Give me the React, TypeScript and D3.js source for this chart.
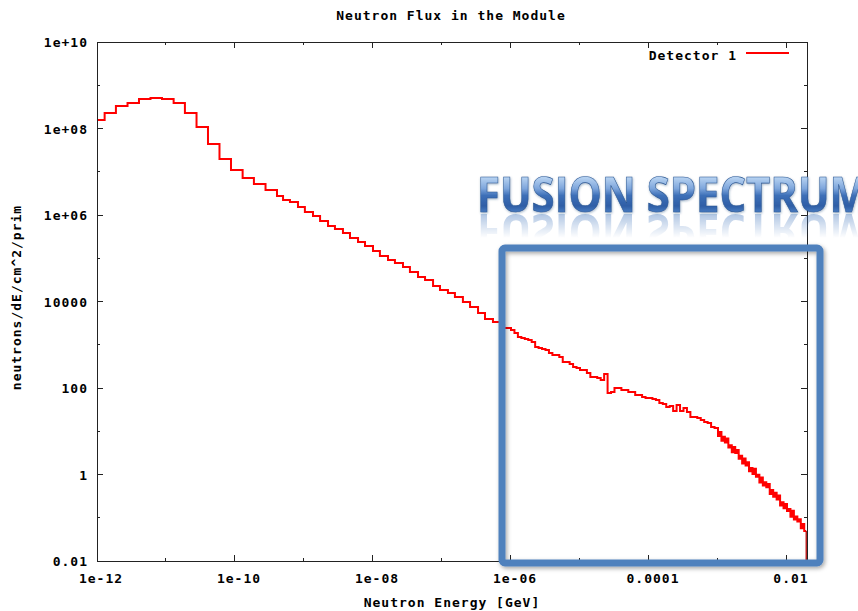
import React from 'react';
import * as d3 from 'd3';

// Histogram bin lower edges (GeV) and flux per bin (neutrons/dE/cm^2/prim)
const energyGeV = [
  8.0e-13, 1.29e-12, 1.88e-12, 2.77e-12, 4.06e-12, 5.96e-12, 8.75e-12, 1.29e-11, 1.88e-11, 2.77e-11,
  4.06e-11, 5.96e-11, 8.75e-11, 1.29e-10, 1.88e-10, 2.77e-10, 4.06e-10,
  4.97e-10, 6.26e-10, 8.18e-10, 1.03e-9, 1.35e-9, 1.71e-9, 2.23e-9, 2.81e-9, 3.67e-9, 4.64e-9,
  6.07e-9, 7.66e-9, 1.0e-8, 1.26e-8, 1.65e-8, 2.08e-8, 2.72e-8, 3.43e-8, 4.49e-8, 5.68e-8,
  7.42e-8, 9.35e-8, 1.22e-7, 1.54e-7, 2.01e-7, 2.55e-7, 3.33e-7, 4.20e-7, 5.48e-7,
  7.079e-7, 7.943e-7, 8.913e-7, 1.0e-6, 1.122e-6, 1.259e-6, 1.413e-6, 1.585e-6, 1.778e-6, 1.995e-6,
  2.239e-6, 2.512e-6, 2.818e-6, 3.162e-6, 3.548e-6, 3.981e-6, 4.467e-6, 5.012e-6, 5.623e-6, 6.310e-6,
  7.079e-6, 7.943e-6, 8.913e-6, 1.0e-5, 1.122e-5, 1.259e-5, 1.413e-5, 1.585e-5, 1.778e-5, 1.995e-5,
  2.239e-5, 2.512e-5, 2.818e-5, 3.162e-5, 3.548e-5, 3.981e-5, 4.467e-5, 5.012e-5, 5.623e-5, 6.310e-5,
  7.079e-5, 7.943e-5, 8.913e-5, 1.0e-4, 1.122e-4, 1.259e-4, 1.413e-4, 1.585e-4, 1.778e-4, 1.995e-4,
  2.239e-4, 2.512e-4, 2.818e-4, 3.162e-4, 3.548e-4, 3.981e-4, 4.467e-4, 5.012e-4, 5.623e-4, 6.310e-4,
  7.079e-4, 7.943e-4, 8.913e-4,
  1.000e-3, 1.059e-3, 1.122e-3, 1.189e-3, 1.259e-3, 1.334e-3, 1.413e-3, 1.496e-3, 1.585e-3, 1.679e-3,
  1.778e-3, 1.884e-3, 1.995e-3, 2.113e-3, 2.239e-3, 2.371e-3, 2.512e-3, 2.661e-3, 2.818e-3, 2.985e-3,
  3.162e-3, 3.350e-3, 3.548e-3, 3.758e-3, 3.981e-3, 4.217e-3, 4.467e-3, 4.732e-3, 5.012e-3, 5.309e-3,
  5.623e-3, 5.957e-3, 6.310e-3, 6.683e-3, 7.079e-3, 7.499e-3, 7.943e-3, 8.414e-3, 8.913e-3, 9.441e-3,
  1.000e-2, 1.059e-2, 1.122e-2, 1.189e-2, 1.259e-2, 1.334e-2, 1.413e-2, 1.496e-2, 1.585e-2, 1.679e-2,
  1.778e-2,
];
const fluxPerPrim = [
  1.57e8, 2.28e8, 3.31e8, 3.89e8, 4.81e8, 5.07e8, 4.81e8, 3.89e8, 2.28e8, 1.08e8,
  4.39e7, 1.97e7, 1.10e7, 7.16e6, 5.21e6, 3.79e6, 2.75e6,
  2.22e6, 2.00e6, 1.53e6, 1.17e6, 9.48e5, 7.27e5, 5.57e5, 4.74e5, 3.84e5, 2.94e5,
  2.38e5, 1.92e5, 1.47e5, 1.13e5, 9.12e4, 7.77e4, 6.28e4, 4.81e4, 3.68e4, 3.14e4,
  2.28e4, 1.85e4, 1.57e4, 1.27e4, 9.73e3, 7.46e3, 5.42e3, 3.94e3, 3.36e3,
  2860, 2440, 2440, 2190, 1870, 1511, 1433, 1358, 1288, 1158,
  887, 841, 797, 756, 645, 579, 579, 521, 399, 399,
  359, 306, 290, 261, 261, 222, 180, 180, 170, 153,
  211, 76.6, 80.8, 100, 100, 89.9, 89.9, 80.8, 80.8, 68.9,
  68.9, 61.9, 58.7, 58.7, 55.7, 52.8, 45.0, 42.7, 36.4, 38.4,
  29.4, 40.5, 29.4, 34.5, 27.9, 21.4, 21.4, 20.2, 18.2, 16.4,
  15.5, 12.5, 11.9,
  7.77, 9.66, 6.01, 7.48, 5.47, 6.80, 4.23, 4.73, 3.28, 4.30,
  3.14, 3.71, 2.31, 2.72, 1.79, 2.34, 1.62, 1.91, 1.19, 1.41,
  1.03, 1.35, 0.885, 0.989, 0.650, 0.852, 0.560, 0.660, 0.508, 0.600,
  0.354, 0.440, 0.305, 0.380, 0.263, 0.327, 0.193, 0.228, 0.166, 0.207,
  0.143, 0.160, 0.105, 0.146, 0.0906, 0.107, 0.0823, 0.0921, 0.0573, 0.0713,
  0.0494,
];
const energyEnd = 0.0190;

const xDomain = [1e-12, 0.0195];
const yDomain = [0.01, 1e10];
const xTickValues = [1e-12, 1e-10, 1e-8, 1e-6, 1e-4, 1e-2];
const xTickLabels = ['1e-12', '1e-10', '1e-08', '1e-06', '0.0001', '0.01'];
const xMinorTicks = [1e-11, 1e-9, 1e-7, 1e-5, 1e-3];
const yTickValues = [1e-2, 1, 100, 1e4, 1e6, 1e8, 1e10];
const yTickLabels = ['0.01', '1', '100', '10000', '1e+06', '1e+08', '1e+10'];
const yMinorTicks = [0.1, 10, 1e3, 1e5, 1e7, 1e9];

const chartTitle = 'Neutron Flux in the Module';
const xAxisTitle = 'Neutron Energy [GeV]';
const yAxisTitle = 'neutrons/dE/cm^2/prim';
const seriesName = 'Detector 1';
const overlayText = 'FUSION SPECTRUM';

export default function App() {
  const W = 858, H = 611;
  const L = 97, T = 42, R = 807, B = 561;
  const x = d3.scaleLog().domain(xDomain).range([L, R]);
  const y = d3.scaleLog().domain(yDomain).range([B, T]);
  const pts: [number, number][] = energyGeV.map((e, i) => [e, fluxPerPrim[i]]);
  pts.push([energyEnd, fluxPerPrim[fluxPerPrim.length - 1]]);
  const line = d3.line<[number, number]>()
    .x(d => x(d[0]))
    .y(d => y(d[1]))
    .curve(d3.curveStepAfter);
  const font = "'DejaVu Sans Mono', monospace";
  const tStyle: React.CSSProperties = { fontFamily: font, fontWeight: 700, fontSize: 13, letterSpacing: 1 };
  const lastY = y(fluxPerPrim[fluxPerPrim.length - 1]);

  return (
    <svg width={W} height={H} style={{ position: 'absolute', left: 0, top: 0, background: '#fff' }}>
      <defs>
        <clipPath id="plot"><rect x={L} y={T} width={R - L} height={B - T} /></clipPath>
        <linearGradient id="wa" x1="0" y1="178" x2="0" y2="213" gradientUnits="userSpaceOnUse">
          <stop offset="0" stopColor="#b4d0f0" />
          <stop offset="0.3" stopColor="#7ea6dc" />
          <stop offset="0.5" stopColor="#3e70b8" />
          <stop offset="0.8" stopColor="#2e5ea6" />
          <stop offset="1" stopColor="#4d7fc4" />
        </linearGradient>
        <linearGradient id="reflGrad" x1="0" y1="213" x2="0" y2="238" gradientUnits="userSpaceOnUse">
          <stop offset="0" stopColor="#fff" stopOpacity="0.45" />
          <stop offset="1" stopColor="#fff" stopOpacity="0" />
        </linearGradient>
        <mask id="reflMask" maskUnits="userSpaceOnUse" x="0" y="0" width={W} height={H}>
          <rect x="0" y="213" width={W} height="28" fill="url(#reflGrad)" />
        </mask>
        <filter id="shadow" x="-5%" y="-5%" width="110%" height="110%">
          <feDropShadow dx="1.5" dy="2" stdDeviation="2" floodColor="#000" floodOpacity="0.35" />
        </filter>
        <filter id="txtShadow" x="-5%" y="-20%" width="110%" height="140%">
          <feDropShadow dx="0.5" dy="1" stdDeviation="0.8" floodColor="#1d3f70" floodOpacity="0.4" />
        </filter>
      </defs>

      {/* title */}
      <text x={451} y={20} textAnchor="middle" style={tStyle}>{chartTitle}</text>

      {/* data */}
      <g clipPath="url(#plot)">
        <path d={line(pts) || ''} fill="none" stroke="#ff0000" strokeWidth={2} strokeLinejoin="miter" />
        <line x1={x(energyEnd)} x2={x(energyEnd)} y1={lastY} y2={B} stroke="#b00000" strokeWidth={1.3} />
      </g>

      {/* frame */}
      <rect x={L} y={T} width={R - L} height={B - T} fill="none" stroke="#222" strokeWidth={1} shapeRendering="crispEdges" />

      {/* ticks */}
      <g stroke="#222" strokeWidth={1} shapeRendering="crispEdges">
        {xTickValues.map((v, i) => (
          <g key={'xt' + i}>
            <line x1={x(v)} x2={x(v)} y1={B} y2={B - 6} />
            <line x1={x(v)} x2={x(v)} y1={T} y2={T + 6} />
          </g>
        ))}
        {xMinorTicks.map((v, i) => (
          <g key={'xm' + i}>
            <line x1={x(v)} x2={x(v)} y1={B} y2={B - 3} />
            <line x1={x(v)} x2={x(v)} y1={T} y2={T + 3} />
          </g>
        ))}
        {yTickValues.map((v, i) => (
          <g key={'yt' + i}>
            <line x1={L} x2={L + 6} y1={y(v)} y2={y(v)} />
            <line x1={R} x2={R - 6} y1={y(v)} y2={y(v)} />
          </g>
        ))}
        {yMinorTicks.map((v, i) => (
          <g key={'ym' + i}>
            <line x1={L} x2={L + 3} y1={y(v)} y2={y(v)} />
            <line x1={R} x2={R - 3} y1={y(v)} y2={y(v)} />
          </g>
        ))}
      </g>

      {/* tick labels */}
      {xTickValues.map((v, i) => (
        <text key={'xl' + i} x={x(v) + 4} y={583} textAnchor="middle" style={tStyle}>{xTickLabels[i]}</text>
      ))}
      {yTickValues.map((v, i) => (
        <text key={'yl' + i} x={88} y={y(v) + 5} textAnchor="end" style={tStyle}>{yTickLabels[i]}</text>
      ))}

      {/* axis titles */}
      <text x={452} y={607} textAnchor="middle" style={tStyle}>{xAxisTitle}</text>
      <text transform={`translate(21, ${(T + B) / 2 - 4}) rotate(-90)`} textAnchor="middle" style={tStyle}>{yAxisTitle}</text>

      {/* legend */}
      <text x={737} y={60} textAnchor="end" style={tStyle}>{seriesName}</text>
      <line x1={746} x2={789} y1={53} y2={53} stroke="#ff0000" strokeWidth={2} />

      {/* annotation box */}
      <rect x={502} y={248} width={318} height={315} rx={3} fill="none" stroke="#4f81bd" strokeWidth={7} filter="url(#shadow)" />

      {/* WordArt title with reflection */}
      <g mask="url(#reflMask)">
        <text transform="translate(0,426) scale(1,-1)" x={477} y={212} textLength={392} lengthAdjust="spacingAndGlyphs"
          style={{ fontFamily: "'Open Sans', sans-serif", fontWeight: 700, fontSize: 48 }} fill="#4a7cc0">{overlayText}</text>
      </g>
      <text x={477} y={212} textLength={392} lengthAdjust="spacingAndGlyphs" filter="url(#txtShadow)"
        style={{ fontFamily: "'Open Sans', sans-serif", fontWeight: 700, fontSize: 48 }}
        fill="url(#wa)" stroke="#2c5894" strokeWidth={0.6}>{overlayText}</text>
    </svg>
  );
}
